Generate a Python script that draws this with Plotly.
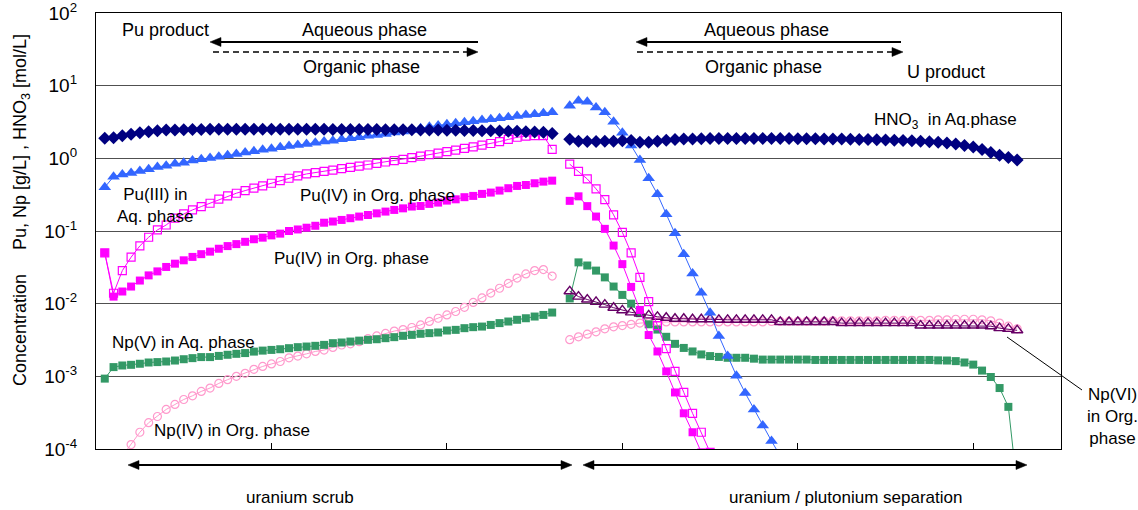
import plotly.graph_objects as go

# ---------------- data ----------------
stages_left = list(range(1, 53))
stages_right = list(range(54, 106))

hno3_left = [1.89, 1.92, 2.05, 2.15, 2.25, 2.33, 2.40, 2.45, 2.46, 2.48,
             2.50, 2.50, 2.51, 2.51, 2.52, 2.52, 2.52, 2.52, 2.52, 2.52,
             2.52, 2.52, 2.52, 2.51, 2.51, 2.51, 2.50, 2.50, 2.50, 2.50,
             2.49, 2.49, 2.48, 2.48, 2.47, 2.47, 2.46, 2.45, 2.45, 2.44,
             2.43, 2.42, 2.41, 2.40, 2.39, 2.38, 2.36, 2.35, 2.33, 2.31,
             2.28, 2.20]
hno3_right = [1.83, 1.72, 1.71, 1.71, 1.72, 1.72, 1.75, 1.76, 1.66, 1.66,
              1.72, 1.78, 1.82, 1.84, 1.85, 1.86, 1.87, 1.87, 1.87, 1.87,
              1.87, 1.87, 1.87, 1.87, 1.87, 1.87, 1.86, 1.86, 1.86, 1.85,
              1.85, 1.84, 1.83, 1.82, 1.81, 1.80, 1.79, 1.77, 1.76, 1.74,
              1.72, 1.69, 1.66, 1.62, 1.57, 1.50, 1.43, 1.32, 1.20, 1.10,
              1.03, 0.95]

pu3_left = [0.40, 0.56, 0.60, 0.63, 0.67, 0.71, 0.76, 0.79, 0.84, 0.87,
            0.93, 0.97, 1.01, 1.05, 1.10, 1.15, 1.20, 1.25, 1.31, 1.36,
            1.42, 1.48, 1.53, 1.58, 1.64, 1.70, 1.75, 1.83, 1.89, 1.95,
            2.04, 2.10, 2.17, 2.26, 2.34, 2.45, 2.60, 2.73, 2.82, 2.95,
            3.04, 3.14, 3.24, 3.37, 3.45, 3.55, 3.67, 3.83, 3.95, 4.04,
            4.17, 4.30]
pu3_stages_right = list(range(54, 79))
pu3_right = [5.3, 6.2, 6.0, 5.0, 4.3, 3.2, 2.25, 1.5, 0.95, 0.53,
             0.32, 0.17, 0.093, 0.048, 0.026, 0.0141, 0.0075, 0.0036, 0.0019, 0.00102,
             0.00059, 0.00035, 0.00021, 0.000129, 0.00008]

pu4_open_left = [0.050, 0.0139, 0.0285, 0.0436, 0.0624, 0.082, 0.1035, 0.121, 0.15, 0.172,
                 0.195, 0.217, 0.241, 0.274, 0.304, 0.331, 0.36, 0.39, 0.418, 0.454,
                 0.494, 0.532, 0.573, 0.61, 0.636, 0.66, 0.69, 0.72, 0.75, 0.78,
                 0.81, 0.85, 0.89, 0.93, 0.97, 1.02, 1.07, 1.12, 1.18, 1.24,
                 1.30, 1.37, 1.44, 1.52, 1.60, 1.70, 1.82, 1.95, 2.02, 2.05,
                 2.05, 1.33]
pu4_open_stages_right = list(range(54, 71))
pu4_open_right = [0.83, 0.66, 0.52, 0.38, 0.27, 0.167, 0.096, 0.050, 0.023, 0.0107,
                  0.005, 0.0024, 0.00117, 0.0006, 0.00031, 0.00017, 0.00009]

pu4_fill_left = [0.050, 0.0125, 0.0147, 0.0172, 0.0208, 0.0245, 0.0278, 0.032, 0.0355, 0.0395,
                 0.044, 0.048, 0.052, 0.057, 0.062, 0.066, 0.071, 0.077, 0.081, 0.087,
                 0.092, 0.100, 0.105, 0.111, 0.118, 0.130, 0.135, 0.142, 0.150, 0.158,
                 0.166, 0.175, 0.185, 0.195, 0.205, 0.217, 0.221, 0.236, 0.246, 0.262,
                 0.273, 0.292, 0.304, 0.324, 0.338, 0.360, 0.388, 0.417, 0.430, 0.454,
                 0.478, 0.493]
pu4_fill_stages_right = list(range(54, 70))
pu4_fill_right = [0.26, 0.30, 0.22, 0.158, 0.107, 0.063, 0.035, 0.017, 0.0082, 0.0037,
                  0.0022, 0.00117, 0.0006, 0.00031, 0.00017, 0.00009]

npv_left = [0.00093, 0.00134, 0.00141, 0.00144, 0.00149, 0.00155, 0.00157, 0.0016, 0.00165, 0.00172,
            0.00178, 0.00184, 0.00184, 0.00191, 0.00198, 0.00204, 0.00209, 0.00219, 0.00226, 0.00231,
            0.00236, 0.00244, 0.00252, 0.00257, 0.00263, 0.00271, 0.00286, 0.00292, 0.00301, 0.0031,
            0.00318, 0.00324, 0.00335, 0.00346, 0.00361, 0.00372, 0.00385, 0.00393, 0.00401, 0.00427,
            0.00436, 0.0046, 0.00475, 0.00484, 0.0051, 0.0054, 0.00568, 0.006, 0.0063, 0.00665,
            0.0070, 0.00755]
npv_right = [0.0118, 0.037, 0.0335, 0.0285, 0.023, 0.0172, 0.0132, 0.010, 0.0074, 0.0052,
             0.0044, 0.0035, 0.0028, 0.00246, 0.0022, 0.0020, 0.0019, 0.00185, 0.0018, 0.0018,
             0.0018, 0.00175, 0.0017, 0.0017, 0.0017, 0.0017, 0.0017, 0.0017, 0.00168, 0.00168,
             0.00168, 0.00168, 0.00168, 0.00168, 0.00168, 0.00168, 0.00168, 0.00168, 0.00168, 0.00168,
             0.00168, 0.00168, 0.00166, 0.00165, 0.00162, 0.00155, 0.00145, 0.0012, 0.00098, 0.00069,
             0.00038, 0.00003]

npiv_stages_left = list(range(3, 53))
npiv_left = [0.00008, 0.000115, 0.00017, 0.00023, 0.00028, 0.00035, 0.00041, 0.00048, 0.00054, 0.00062,
             0.00069, 0.0008, 0.0009, 0.0010, 0.0011, 0.00125, 0.00137, 0.00148, 0.0016, 0.0018,
             0.0019, 0.00204, 0.0022, 0.0023, 0.0025, 0.0027, 0.0028, 0.0030, 0.0033, 0.0036,
             0.0039, 0.0042, 0.0044, 0.0047, 0.0051, 0.0057, 0.0063, 0.0070, 0.0078, 0.0089,
             0.0104, 0.0120, 0.0140, 0.0163, 0.0190, 0.0225, 0.0257, 0.0285, 0.0295, 0.0240]
npiv_right = [0.0032, 0.0035, 0.0038, 0.0041, 0.0045, 0.0048, 0.0050, 0.0052, 0.0054, 0.0055,
              0.0056, 0.0056, 0.0056, 0.0056, 0.0056, 0.0056, 0.0056, 0.0056, 0.0056, 0.0056,
              0.0056, 0.0056, 0.0056, 0.0057, 0.0057, 0.0057, 0.0057, 0.0057, 0.0057, 0.0057,
              0.0058, 0.0058, 0.0058, 0.0058, 0.0058, 0.0058, 0.0059, 0.0059, 0.0059, 0.0059,
              0.0059, 0.0059, 0.0060, 0.0060, 0.0061, 0.0061, 0.0061, 0.0060, 0.0058, 0.0054,
              0.0049, 0.0045]

npvi_right = [0.0148, 0.0125, 0.0114, 0.0106, 0.0097, 0.0088, 0.0081, 0.0076, 0.0073, 0.0069,
              0.0066, 0.0064, 0.0062, 0.0062, 0.0061, 0.0061, 0.0061, 0.0060, 0.0060, 0.0060,
              0.0060, 0.0060, 0.0060, 0.0060, 0.0056, 0.0056, 0.0056, 0.0056, 0.0056, 0.0056,
              0.0056, 0.0054, 0.0054, 0.0054, 0.0054, 0.0054, 0.0054, 0.0054, 0.0054, 0.0054,
              0.0050, 0.0050, 0.0050, 0.0050, 0.0050, 0.0050, 0.0050, 0.0050, 0.0049, 0.0046,
              0.0045, 0.0043]

y_tick_vals = [1e-4, 1e-3, 1e-2, 1e-1, 1e0, 1e1, 1e2]
y_tick_text = ["10<sup>-4</sup>", "10<sup>-3</sup>", "10<sup>-2</sup>", "10<sup>-1</sup>",
               "10<sup>0</sup>", "10<sup>1</sup>", "10<sup>2</sup>"]
x_tick_vals = [20, 40, 60, 80, 100]

# ---------------- figure ----------------
FONT = "Arial, 'Liberation Sans', sans-serif"
W, H = 1138, 510
L, R, T, B = 96, 1061, 13, 449


def join(xl, yl, xr, yr):
    return list(xl) + [None] + list(xr), list(yl) + [None] + list(yr)


def px(xp):
    return (xp - L) / (R - L)


def py(yp):
    return (B - yp) / (B - T)


fig = go.Figure()

series = [
    (npiv_stages_left, npiv_left, stages_right, npiv_right, "Np(IV) Org", "#FF99CC",
     dict(symbol="circle-open", size=8, line=dict(width=1.2, color="#FF99CC"))),
    (stages_left, npv_left, stages_right, npv_right, "Np(V) Aq", "#339966",
     dict(symbol="square", size=8, color="#339966")),
    ([], [], stages_right, npvi_right, "Np(VI) Org", "#660066",
     dict(symbol="triangle-up-open", size=10, line=dict(width=1.4, color="#660066"))),
    (stages_left, pu4_fill_left, pu4_fill_stages_right, pu4_fill_right, "Pu(IV) filled", "#FF00FF",
     dict(symbol="square", size=8, color="#FF00FF")),
    (stages_left, pu4_open_left, pu4_open_stages_right, pu4_open_right, "Pu(IV) open", "#FF00FF",
     dict(symbol="square-open", size=8, line=dict(width=1.2, color="#FF00FF"))),
    (stages_left, pu3_left, pu3_stages_right, pu3_right, "Pu(III) Aq", "#3366FF",
     dict(symbol="triangle-up", size=11, color="#3366FF")),
    (stages_left, hno3_left, stages_right, hno3_right, "HNO3 Aq", "#000080",
     dict(symbol="diamond", size=10, color="#000080")),
]

for xl, yl, xr, yr, name, col, mk in series:
    if xl:
        xs, ys = join(xl, yl, xr, yr)
    else:
        xs, ys = list(xr), list(yr)
    fig.add_trace(go.Scatter(x=xs, y=ys, mode="lines+markers", name=name,
                             line=dict(color=col, width=1), marker=mk,
                             connectgaps=False, showlegend=False, cliponaxis=True))

annotations = []
shapes = []


def text(t, xp, yp, size=17, xanchor="left", angle=0):
    annotations.append(dict(text=t, x=px(xp), y=py(yp), xref="paper", yref="paper",
                            xanchor=xanchor, yanchor="middle", showarrow=False,
                            textangle=angle, font=dict(family=FONT, size=size, color="black")))


def seg(x0, y0, x1, y1, width=1.8, dash=None):
    ln = dict(color="black", width=width)
    if dash:
        ln["dash"] = dash
    shapes.append(dict(type="line", xref="paper", yref="paper",
                       x0=px(x0), x1=px(x1), y0=py(y0), y1=py(y1), line=ln))


def head(tip_x, tip_y, direction, length=11, half=4.5):
    bx = tip_x - direction * length
    path = "M {:.5f},{:.5f} L {:.5f},{:.5f} L {:.5f},{:.5f} Z".format(
        px(tip_x), py(tip_y), px(bx), py(tip_y - half), px(bx), py(tip_y + half))
    shapes.append(dict(type="path", xref="paper", yref="paper", path=path,
                       fillcolor="black", line=dict(color="black", width=0.5)))


# top labels
text("Pu product", 120, 30, 18)
text("Aqueous phase", 364, 30, 18, "center")
text("Organic phase", 361, 67, 18, "center")
text("Aqueous phase", 766, 30, 18, "center")
text("Organic phase", 763, 67, 18, "center")
text("U product", 905, 72, 18)

# series labels
text("HNO<sub>3</sub>  in Aq.phase", 872, 121, 17)
text("Pu(III) in<br>Aq. phase", 115, 205, 17)
text("Pu(IV) in Org. phase", 298, 195, 17)
text("Pu(IV) in Org. phase", 272, 258, 17)
text("Np(V) in Aq. phase", 110, 342, 17)
text("Np(IV) in Org. phase", 152, 430, 17)
text("Np(VI)<br>in Org.<br>phase", 1085, 416, 17)

# bottom labels
text("uranium scrub", 300, 497, 17, "center")
text("uranium / plutonium separation", 845, 497, 17, "center")

# y axis title
text("Concentration", 20, 330, 18, "center", -90)
text("Pu, Np [g/L] , HNO<sub>3</sub> [mol/L]", 22, 142, 18, "center", -90)

# aqueous flow (solid, leftwards)
seg(218, 42, 478, 42)
head(210, 42, -1)
seg(644, 42, 901, 42)
head(636, 42, -1)
# organic flow (dashed, rightwards)
seg(213, 52, 468, 52, width=1.6, dash="6px,4px")
head(478, 52, 1)
seg(637, 52, 893, 52, width=1.6, dash="6px,4px")
head(903, 52, 1)
# bottom double arrows
seg(137, 465, 563, 465)
head(128, 465, -1)
head(572, 465, 1)
seg(592, 465, 1018, 465)
head(583, 465, -1)
head(1027, 465, 1)
# pointer for Np(VI)
seg(1007, 337, 1082, 390, width=1)

fig.update_layout(
    width=W, height=H,
    margin=dict(l=L, r=W - R, t=T, b=H - B, pad=0, autoexpand=False),
    paper_bgcolor="white", plot_bgcolor="white",
    showlegend=False,
    font=dict(family=FONT, size=17, color="black"),
    annotations=annotations,
    shapes=shapes,
    xaxis=dict(range=[0, 110], tickvals=x_tick_vals, showticklabels=False,
               ticks="inside", ticklen=6, tickcolor="black", tickwidth=1,
               showgrid=False, zeroline=False, showline=True, linecolor="black",
               linewidth=1.2, mirror=True, automargin=False),
    yaxis=dict(type="log", range=[-4, 2], tickvals=y_tick_vals, ticktext=y_tick_text,
               tickfont=dict(family=FONT, size=19, color="black"),
               ticks="", ticklabelstandoff=14, ticklabeloverflow="allow",
               showgrid=True, gridcolor="#505050", gridwidth=1, automargin=False,
               zeroline=False, showline=True, linecolor="black", linewidth=1.2, mirror=True),
)

fig.write_html("out.html", config={"displayModeBar": False},
               post_script="document.body.style.margin='0';document.body.style.overflow='hidden';")
